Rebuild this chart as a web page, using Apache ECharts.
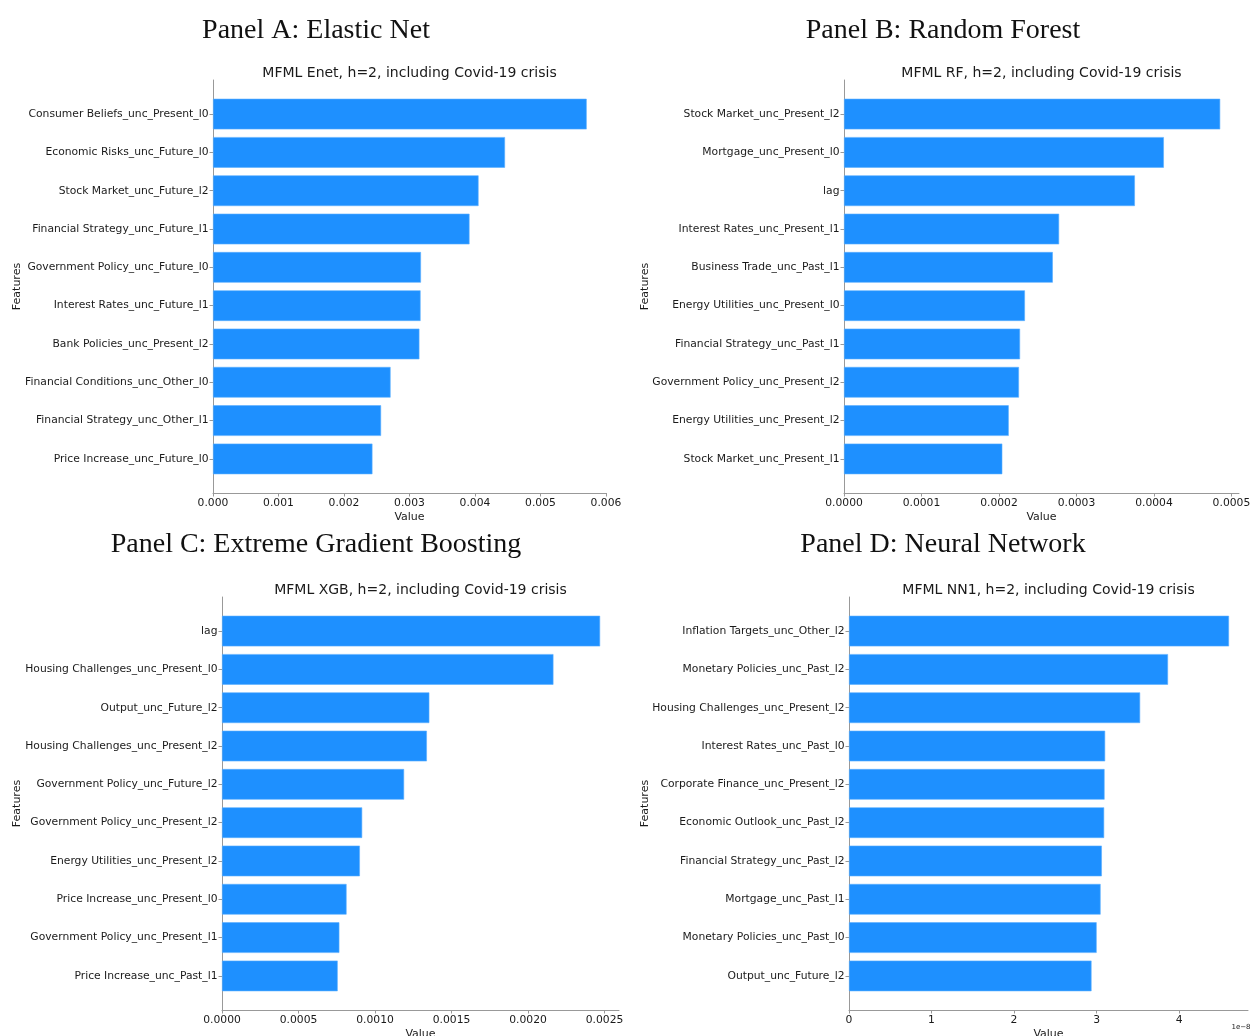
<!DOCTYPE html>
<html>
<head>
<meta charset="utf-8">
<script src="https://cdn.jsdelivr.net/npm/echarts@6/dist/echarts.min.js"></script>
<style>
html,body{margin:0;padding:0;background:#fff;}
#chart{width:1251px;height:1036px;}
</style>
</head>
<body>
<div id="chart"></div>
<script>
// ---------- DATA ----------
const enetCats = ['Consumer Beliefs_unc_Present_l0','Economic Risks_unc_Future_l0','Stock Market_unc_Future_l2','Financial Strategy_unc_Future_l1','Government Policy_unc_Future_l0','Interest Rates_unc_Future_l1','Bank Policies_unc_Present_l2','Financial Conditions_unc_Other_l0','Financial Strategy_unc_Other_l1','Price Increase_unc_Future_l0'];
const enetVals = [0.005705, 0.004458, 0.004054, 0.003916, 0.003175, 0.003169, 0.003151, 0.002711, 0.002566, 0.002434];
const enetTicks = [0, 0.001, 0.002, 0.003, 0.004, 0.005, 0.006];

const rfCats = ['Stock Market_unc_Present_l2','Mortgage_unc_Present_l0','lag','Interest Rates_unc_Present_l1','Business Trade_unc_Past_l1','Energy Utilities_unc_Present_l0','Financial Strategy_unc_Past_l1','Government Policy_unc_Present_l2','Energy Utilities_unc_Present_l2','Stock Market_unc_Present_l1'];
const rfVals = [0.0004855, 0.0004128, 0.0003754, 0.0002776, 0.0002695, 0.0002335, 0.0002272, 0.0002258, 0.0002126, 0.0002043];
const rfTicks = [0, 0.0001, 0.0002, 0.0003, 0.0004, 0.0005];

const xgbCats = ['lag','Housing Challenges_unc_Present_l0','Output_unc_Future_l2','Housing Challenges_unc_Present_l2','Government Policy_unc_Future_l2','Government Policy_unc_Present_l2','Energy Utilities_unc_Present_l2','Price Increase_unc_Present_l0','Government Policy_unc_Present_l1','Price Increase_unc_Past_l1'];
const xgbVals = [0.002471, 0.002166, 0.001355, 0.001339, 0.001190, 0.000916, 0.000901, 0.000814, 0.000767, 0.000756];
const xgbTicks = [0, 0.0005, 0.0010, 0.0015, 0.0020, 0.0025];

const nn1Cats = ['Inflation Targets_unc_Other_l2','Monetary Policies_unc_Past_l2','Housing Challenges_unc_Present_l2','Interest Rates_unc_Past_l0','Corporate Finance_unc_Present_l2','Economic Outlook_unc_Past_l2','Financial Strategy_unc_Past_l2','Mortgage_unc_Past_l1','Monetary Policies_unc_Past_l0','Output_unc_Future_l2'];
const nn1Vals = [4.605e-8, 3.866e-8, 3.528e-8, 3.104e-8, 3.097e-8, 3.092e-8, 3.064e-8, 3.049e-8, 3.001e-8, 2.939e-8];
const nn1Ticks = [0, 1e-8, 2e-8, 3e-8, 4e-8];

const panelTitles = ['Panel A: Elastic Net', 'Panel B: Random Forest', 'Panel C: Extreme Gradient Boosting', 'Panel D: Neural Network'];
const chartTitles = ['MFML Enet, h=2, including Covid-19 crisis', 'MFML RF, h=2, including Covid-19 crisis', 'MFML XGB, h=2, including Covid-19 crisis', 'MFML NN1, h=2, including Covid-19 crisis'];
const xName = 'Value';
const yName = 'Features';
const offsetText = '1e\u22128';

// ---------- LAYOUT ----------
const panels = [
  {cats: enetCats, vals: enetVals, ticks: enetTicks, fmt: v => v.toFixed(3), left: 213, width: 393, top: 80, yGap: 190},
  {cats: rfCats, vals: rfVals, ticks: rfTicks, fmt: v => v.toFixed(4), left: 844, width: 395, top: 80, yGap: 193},
  {cats: xgbCats, vals: xgbVals, ticks: xgbTicks, fmt: v => v.toFixed(4), left: 222, width: 397, top: 597, yGap: 199},
  {cats: nn1Cats, vals: nn1Vals, ticks: nn1Ticks, fmt: v => String(Math.round(v * 1e8)), left: 849, width: 399, top: 597, yGap: 198}
];
const H = 413;
const FONT = 'DejaVu Sans';
const AX = '#999999';
const TXT = '#1a1a1a';
const BAR = '#1E90FF';

const grid = [], xAxis = [], yAxis = [], series = [], title = [];
const panelCenters = [[316, 17], [943, 17], [316, 531], [943, 531]];

panels.forEach((p, i) => {
  const n = p.cats.length;
  const span = (n - 1) + 0.8 + 2 * 0.05 * ((n - 1) + 0.8);
  const unit = H / span;
  const inset = (0.4 + 0.05 * ((n - 1) + 0.8) - 0.5) * unit;
  const dataMax = Math.max(...p.vals);
  const lastTick = p.ticks[p.ticks.length - 1];
  const xMax = Math.max(dataMax * 1.05, lastTick <= dataMax * 1.06 ? lastTick : 0);

  grid.push({left: p.left, top: p.top, width: p.width, height: H, containLabel: false, outerBoundsMode: 'none'});
  grid.push({left: p.left, top: p.top + inset, width: p.width, height: H - 2 * inset, containLabel: false, outerBoundsMode: 'none'});
  const go = 2 * i, gi = 2 * i + 1;

  xAxis.push({
    gridIndex: go, type: 'value', min: 0, max: xMax,
    axisLine: {show: true, onZero: false, lineStyle: {color: AX, width: 1}},
    axisTick: {show: true, length: 3.5, lineStyle: {color: AX}, customValues: p.ticks},
    axisLabel: {show: true, customValues: p.ticks, formatter: p.fmt, fontFamily: FONT, fontSize: 10.75, color: TXT, margin: 4.5, showMaxLabel: true, showMinLabel: true, hideOverlap: false},
    splitLine: {show: false},
    name: xName, nameLocation: 'middle', nameGap: 19, nameMoveOverlap: false,
    nameTextStyle: {fontFamily: FONT, fontSize: 11, color: TXT}
  });
  yAxis.push({
    gridIndex: go, type: 'value', min: 0, max: 1,
    axisLine: {show: true, onZero: false, lineStyle: {color: AX, width: 1}},
    axisTick: {show: false}, axisLabel: {show: false}, splitLine: {show: false},
    name: yName, nameLocation: 'middle', nameGap: p.yGap, nameRotate: 90, nameMoveOverlap: false,
    nameTextStyle: {fontFamily: FONT, fontSize: 11, color: TXT}
  });
  xAxis.push({gridIndex: gi, type: 'value', min: 0, max: xMax, show: false});
  yAxis.push({
    gridIndex: gi, type: 'category', data: p.cats, inverse: true,
    axisLine: {show: false},
    axisTick: {show: true, alignWithLabel: true, length: 3.5, lineStyle: {color: AX}},
    axisLabel: {fontFamily: FONT, fontSize: 10.75, color: TXT, margin: 4.5, interval: 0},
    splitLine: {show: false}
  });
  series.push({
    type: 'bar', xAxisIndex: gi, yAxisIndex: gi, data: p.vals, barWidth: '80%',
    itemStyle: {color: BAR, borderColor: '#5aaeff', borderWidth: 0.6},
    emphasis: {disabled: true}, silent: true
  });

  title.push({
    text: chartTitles[i], left: p.left + p.width / 2, top: p.top - 14, textAlign: 'center', padding: 0,
    textStyle: {fontFamily: FONT, fontSize: 14, fontWeight: 'normal', color: TXT}
  });
  title.push({
    text: panelTitles[i], left: panelCenters[i][0], top: panelCenters[i][1], textAlign: 'center', padding: 0,
    textStyle: {fontFamily: 'Liberation Serif', fontSize: 28, fontWeight: 'normal', color: '#111'}
  });
});
title.push({text: offsetText, left: 1241, top: 1024, textAlign: 'center', padding: 0, textStyle: {fontFamily: FONT, fontSize: 7, fontWeight: 'normal', color: TXT}});

const chart = echarts.init(document.getElementById('chart'), null, {renderer: 'canvas'});
chart.setOption({animation: false, backgroundColor: '#fff', title, grid, xAxis, yAxis, series});
</script>
</body>
</html>
